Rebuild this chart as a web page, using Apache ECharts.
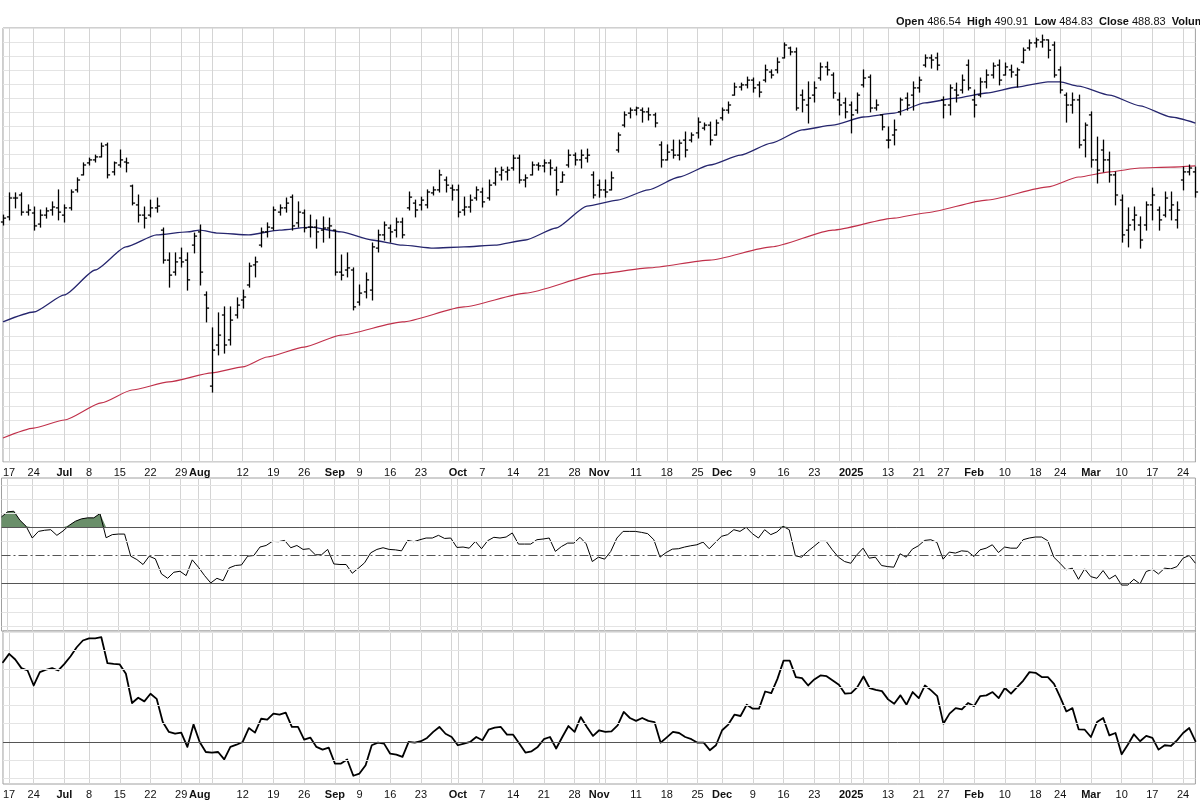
<!DOCTYPE html>
<html><head><meta charset="utf-8">
<script src="https://cdn.jsdelivr.net/npm/echarts@6/dist/echarts.min.js"></script>
<style>html,body{margin:0;padding:0;background:#fff}#c{width:1200px;height:800px}</style>
</head><body><div id="c"></div>
<script>
// ---- data ----
const holidays = ['2024-06-19','2024-07-04','2024-09-02','2024-11-28','2024-12-25','2025-01-01','2025-01-09','2025-01-20','2025-02-17'];
const firstDay = '2024-06-14';
const barCount = 195;

const tickLabels = [['2024-06-17','17'],['2024-06-24','24'],['2024-07-01','Jul'],['2024-07-08','8'],['2024-07-15','15'],['2024-07-22','22'],['2024-07-29','29'],['2024-08-01','Aug'],['2024-08-12','12'],['2024-08-19','19'],['2024-08-26','26'],['2024-09-03','Sep'],['2024-09-09','9'],['2024-09-16','16'],['2024-09-23','23'],['2024-10-01','Oct'],['2024-10-07','7'],['2024-10-14','14'],['2024-10-21','21'],['2024-10-28','28'],['2024-11-01','Nov'],['2024-11-11','11'],['2024-11-18','18'],['2024-11-25','25'],['2024-12-02','Dec'],['2024-12-09','9'],['2024-12-16','16'],['2024-12-23','23'],['2025-01-02','2025'],['2025-01-13','13'],['2025-01-21','21'],['2025-01-27','27'],['2025-02-03','Feb'],['2025-02-10','10'],['2025-02-18','18'],['2025-02-24','24'],['2025-03-03','Mar'],['2025-03-10','10'],['2025-03-17','17'],['2025-03-24','24']];
const boldLabels = ['Jul','Aug','Sep','Oct','Nov','Dec','2025','Feb','Mar'];
const extraGridDates = ['2024-08-05','2024-09-30','2024-11-04','2024-12-30','2025-01-06'];

const opens = [476.0,477.7,484.0,485.0,479.3,479.0,475.3,478.3,480.0,480.7,
478.3,480.7,486.7,491.7,495.7,496.7,497.7,501.7,492.7,495.0,
496.0,488.0,481.7,478.3,478.3,480.7,473.3,463.3,459.3,464.0,
463.3,468.3,472.7,451.7,421.3,435.0,445.0,436.7,445.0,450.0,
455.0,461.7,468.3,472.7,474.0,479.3,480.7,484.3,475.7,479.0,
474.3,474.3,473.3,474.0,473.3,459.3,460.0,460.0,449.3,452.7,
453.3,467.3,471.7,474.0,473.3,476.0,480.7,482.3,481.7,481.7,
485.7,486.7,490.0,487.3,486.7,480.0,481.0,484.0,486.0,484.0,
489.0,491.7,492.7,494.0,497.3,490.0,491.7,495.0,494.7,495.7,
493.3,489.3,495.0,498.3,496.7,497.3,491.7,488.3,486.7,486.7,
500.0,508.3,512.3,513.3,513.3,512.7,511.7,501.7,496.7,500.0,
498.3,503.3,503.3,505.7,507.3,508.3,505.0,510.7,513.3,518.3,
521.0,521.7,523.3,521.7,523.3,526.0,526.7,530.7,534.0,532.7,
518.3,515.0,518.3,524.0,527.7,525.0,516.7,515.7,515.0,513.3,
521.7,524.3,514.0,511.7,503.3,505.0,512.7,517.3,518.3,520.7,
528.3,530.7,530.7,516.7,515.0,520.0,520.0,528.3,516.7,518.3,
522.7,525.0,528.3,525.0,526.7,525.0,529.3,534.0,535.7,536.0,
536.7,535.0,526.7,518.3,515.0,516.7,503.3,511.7,496.7,500.0,
496.7,491.7,483.3,473.3,476.7,475.0,475.0,481.7,480.0,478.3,
480.0,476.7,490.0,492.7,492.7];
const highs = [478.3,485.7,485.7,485.7,481.7,481.0,480.0,480.7,482.7,486.7,
481.7,486.7,490.7,495.7,497.3,498.3,502.3,502.3,496.0,500.0,
497.3,488.3,485.0,481.0,483.3,484.0,474.0,465.7,465.7,467.3,
465.7,472.3,475.0,452.7,440.7,445.7,447.7,447.7,450.7,453.3,
462.3,464.3,474.0,475.7,481.0,481.7,484.0,485.0,482.7,480.0,
478.3,476.7,477.7,477.3,473.3,465.0,465.7,460.7,455.0,459.0,
469.0,473.3,476.0,475.0,477.3,477.3,486.0,483.3,484.3,486.7,
487.7,493.3,491.0,488.3,488.3,484.3,485.0,487.7,487.3,490.0,
494.0,494.3,494.3,498.3,498.3,491.7,496.0,495.7,496.7,496.7,
494.3,492.7,500.0,499.0,500.0,500.3,492.7,490.0,490.0,492.7,
505.7,512.7,514.0,514.3,514.0,514.0,512.3,502.7,501.7,503.3,
503.3,506.0,505.7,510.7,509.0,509.3,510.0,514.0,516.0,522.3,
522.3,524.3,524.0,522.7,528.3,526.7,530.7,535.7,534.3,534.0,
520.0,522.7,522.7,529.0,529.3,525.7,519.0,517.3,516.0,519.0,
526.7,525.0,516.7,511.7,507.7,510.0,517.3,519.0,522.7,524.3,
531.7,531.7,532.3,517.7,521.7,522.3,525.0,530.0,520.0,524.0,
526.7,529.0,530.0,529.0,528.3,527.3,534.0,536.7,537.3,538.3,
536.7,536.0,527.7,519.0,519.0,518.3,509.0,512.7,504.3,503.3,
499.3,492.7,485.0,480.7,481.0,477.7,482.7,487.3,481.0,486.0,
486.0,482.7,494.3,495.0,494.3];
const lows = [475.0,476.7,480.7,478.3,478.3,473.3,474.3,477.3,478.3,476.7,
476.0,480.0,486.0,491.7,495.0,496.0,497.7,490.7,491.7,494.3,
492.7,481.7,476.0,474.0,477.7,479.3,462.3,454.3,458.3,461.0,
453.3,465.7,455.0,442.7,419.3,431.7,432.3,435.0,444.0,447.3,
454.3,457.7,467.7,471.0,473.3,478.3,479.3,473.3,474.3,472.7,
471.0,467.3,469.3,470.7,458.3,456.7,457.7,446.7,448.3,450.7,
450.0,466.0,470.0,469.3,471.0,470.7,480.0,477.7,480.0,480.7,
485.0,486.0,486.0,483.3,477.7,478.3,479.3,483.3,481.0,483.3,
488.3,490.0,490.0,493.3,489.0,487.7,491.7,493.3,492.7,491.7,
485.0,489.3,494.3,495.0,494.0,496.0,484.0,484.3,484.3,486.7,
499.3,507.7,510.7,511.7,509.3,510.0,507.7,494.3,496.7,497.3,
496.7,497.7,502.7,504.0,506.7,501.7,505.0,510.0,512.3,518.3,
520.0,520.7,519.3,517.7,522.7,524.0,525.7,530.7,531.7,513.3,
512.7,509.0,516.0,523.3,525.0,517.3,511.7,510.7,505.7,512.3,
521.0,512.7,513.3,506.7,500.7,501.7,511.7,513.3,513.3,519.3,
527.7,527.3,526.7,510.7,511.7,516.0,519.0,520.0,511.0,517.7,
520.7,524.0,521.7,525.0,524.3,521.0,529.0,533.3,534.3,534.3,
530.7,524.3,519.0,509.3,512.3,500.7,497.7,494.3,489.0,492.7,
489.3,481.7,469.3,467.7,473.3,467.3,473.3,476.7,473.3,477.7,
476.7,474.0,486.7,491.7,484.3];
const closes = [477.3,484.0,484.0,479.3,480.0,474.7,478.3,479.7,481.0,479.3,
480.7,486.0,490.0,495.0,496.7,497.7,501.3,491.7,495.7,496.7,
495.7,482.3,478.3,477.3,480.7,481.3,463.3,458.3,462.7,462.7,
456.7,471.3,459.3,447.3,433.3,438.3,435.0,443.3,448.3,451.0,
461.3,462.7,472.7,474.3,480.0,480.7,482.3,474.7,479.3,474.0,
474.3,472.7,474.0,474.7,459.3,458.3,460.7,447.7,452.3,456.7,
467.7,471.7,475.0,472.7,476.0,471.7,484.3,480.0,483.3,486.0,
486.7,491.7,488.3,486.7,479.3,481.0,483.3,486.7,482.7,488.3,
492.7,493.3,493.3,497.3,490.0,490.7,495.0,494.7,495.7,494.0,
486.7,491.7,498.3,496.7,498.3,498.3,485.0,486.7,486.0,490.7,
505.0,511.7,513.3,514.0,512.7,511.7,509.0,496.7,499.3,498.3,
502.3,500.0,505.0,509.3,508.3,503.3,509.0,513.3,515.0,521.0,
521.7,523.3,520.7,519.3,526.7,525.0,529.3,535.0,532.7,514.0,
516.7,517.3,520.7,527.7,526.7,519.0,515.0,512.7,511.7,518.3,
524.0,514.0,515.0,507.7,503.3,506.7,516.7,515.0,520.7,523.3,
530.7,530.0,528.3,515.0,520.7,518.3,523.3,520.7,515.0,522.7,
525.0,528.0,523.3,527.7,526.0,526.7,533.3,535.7,536.7,536.7,
533.3,525.0,520.0,515.0,516.7,501.7,508.3,496.7,493.3,496.7,
491.7,485.0,471.7,475.0,478.3,470.0,481.7,485.0,476.7,484.0,
481.7,480.0,492.7,494.0,486.0];

// moving averages read at sampled bars: [bar index, value]
const ma50 = [[0,442.7],[5,446.0],[10,451.7],[15,460.0],[20,467.7],[25,471.7],[30,472.7],[32,473.3],[35,472.3],[40,471.7],[45,473.3],[50,474.3],[55,472.7],[60,470.0],[65,468.3],[70,467.3],[75,467.7],[80,468.3],[85,470.0],[90,474.0],[95,481.3],[100,483.3],[105,486.7],[110,491.0],[115,495.0],[120,498.3],[125,502.3],[130,506.7],[135,508.3],[140,511.0],[145,512.3],[150,515.7],[155,517.3],[160,519.0],[165,521.0],[170,522.7],[172,522.7],[175,521.3],[180,518.3],[185,514.7],[190,511.0],[194,509.0]];
const ma200 = [[0,404.0],[5,407.3],[10,410.0],[16,415.7],[21,420.0],[27,422.7],[34,425.7],[39,427.7],[43,431.0],[49,434.3],[55,438.3],[65,442.7],[75,447.7],[85,452.3],[97,458.7],[105,460.7],[115,463.3],[125,467.7],[135,473.3],[145,477.3],[150,479.0],[160,483.3],[170,487.7],[175,491.0],[180,492.7],[185,494.0],[190,494.3],[194,494.7]];

const rsi = [77.4,81.0,81.4,75.0,70.7,62.4,67.1,67.9,68.3,64.3,
67.4,71.4,74.3,76.0,76.7,76.7,79.8,62.6,64.8,65.2,
65.2,49.5,47.1,43.6,49.5,47.6,36.9,33.8,38.1,38.8,
35.7,46.9,41.7,35.7,30.5,33.8,32.1,41.2,42.9,43.3,
49.5,50.0,56.0,57.1,60.0,59.8,60.7,55.5,57.1,54.3,
54.8,50.5,50.5,54.3,44.0,43.6,43.6,37.4,41.0,44.8,
51.9,54.3,55.5,54.3,54.0,53.3,60.7,59.8,61.2,62.4,
62.4,64.3,62.1,62.4,55.7,56.0,55.2,60.0,54.8,60.5,
62.9,62.4,63.1,66.0,58.1,58.1,58.1,61.2,61.7,62.4,
52.9,56.4,58.8,58.8,62.9,58.3,45.7,48.8,47.4,52.9,
62.4,67.1,67.1,67.1,66.4,65.5,61.2,48.8,52.1,54.5,
54.8,56.0,56.9,57.6,59.5,54.8,59.3,63.6,64.8,68.3,
67.1,70.0,65.5,62.4,68.3,64.8,66.7,70.7,68.3,49.8,
48.8,52.9,56.4,60.0,60.0,54.0,48.8,45.7,44.5,50.5,
55.2,48.1,48.8,42.9,42.1,41.7,51.2,48.8,54.5,56.9,
60.7,61.2,59.3,47.4,52.4,51.7,53.3,52.9,49.3,54.0,
55.2,57.6,52.1,56.0,55.2,55.2,61.2,62.4,63.1,63.1,
60.5,48.8,44.5,39.8,41.0,33.1,40.5,35.0,33.8,39.3,
33.3,36.0,29.0,29.0,33.1,29.8,38.6,40.2,36.9,41.0,
40.5,42.1,48.1,50.0,44.5];

const lowerOsc = [4.36,4.82,4.51,4.04,3.91,3.09,3.82,3.95,4.04,3.91,
4.27,4.69,5.18,5.55,5.67,5.67,5.73,4.31,4.27,4.24,
3.73,2.13,2.42,2.22,2.64,2.36,1.09,0.55,0.45,0.51,
-0.27,0.96,0.00,-0.55,-0.58,-0.55,-0.95,-0.27,-0.15,0.00,
0.76,0.51,1.27,1.22,1.55,1.49,1.60,0.82,0.82,0.13,
0.24,-0.27,-0.42,-0.31,-1.18,-1.18,-0.96,-1.85,-1.73,-1.27,
-0.18,-0.04,-0.09,-0.64,-0.69,-0.82,0.00,-0.04,0.04,0.22,
0.55,0.82,0.45,0.27,-0.18,-0.09,0.00,0.27,0.09,0.67,
0.78,0.82,0.40,0.40,-0.09,-0.58,-0.51,-0.27,0.15,0.27,
-0.36,0.27,0.87,0.55,1.36,0.82,0.33,0.64,0.55,0.58,
0.91,1.64,1.31,1.15,1.31,1.15,1.09,-0.04,0.25,0.55,
0.49,0.27,0.15,-0.04,-0.04,-0.45,-0.18,0.64,0.95,1.49,
1.42,2.04,1.82,1.82,2.76,2.67,3.45,4.45,4.45,3.55,
3.49,3.09,3.42,3.64,3.60,3.36,3.13,2.64,2.67,3.00,
3.58,2.95,2.85,2.78,2.33,2.09,2.55,2.04,2.73,2.40,
3.09,2.82,2.51,1.00,1.55,1.85,1.78,2.13,1.96,2.51,
2.55,2.73,2.40,2.95,2.64,3.00,3.36,3.82,3.78,3.55,
3.55,3.18,2.45,1.67,1.85,0.69,0.67,0.27,1.09,1.31,
0.36,0.49,-0.67,-0.15,0.42,0.04,0.33,0.22,-0.42,-0.18,
-0.22,0.09,0.49,0.76,0.04];

const header = {Open:'486.54', High:'490.91', Low:'484.83', Close:'488.83'};

// ---- build ----
const hol = new Set(holidays);
const dates = [];
{
  let d = new Date(firstDay + 'T00:00:00Z');
  while (dates.length < barCount) {
    const s = d.toISOString().slice(0,10);
    const wd = d.getUTCDay();
    if (wd !== 0 && wd !== 6 && !hol.has(s)) dates.push(s);
    d = new Date(d.getTime() + 86400000);
  }
}
const labelMap = new Map(tickLabels);
const gridSet = new Set(tickLabels.map(t => t[0]).concat(extraGridDates));
const ohlc = dates.map((d, i) => [i, opens[i], highs[i], lows[i], closes[i]]);
const rsiAbove = rsi.map(v => Math.max(0, v - 70));
const rsiBase = rsi.map(() => 70);

const FONT = 'Liberation Sans, Arial, sans-serif';
const grids = [
  {left: 1.5, right: 4.6, top: 28, height: 434},
  {left: 1.5, right: 4.6, top: 478, height: 153},
  {left: 1.5, right: 4.6, top: 631, height: 153}
].map(g => Object.assign(g, {show: true, borderColor: '#a0a0a0', borderWidth: 1, backgroundColor: '#fff'}));

function xAxis(gi, showLabels) {
  return {
    type: 'category', gridIndex: gi, data: dates, boundaryGap: false,
    axisLine: {show: false}, axisTick: {show: false},
    splitLine: {show: true, interval: (i, v) => gridSet.has(v), lineStyle: {color: '#d4d4d4', width: 1}},
    axisLabel: {
      show: showLabels, interval: (i, v) => labelMap.has(v), margin: 5,
      fontFamily: FONT, fontSize: 11, color: '#111',
      formatter: v => { const t = labelMap.get(v) || ''; return boldLabels.includes(t) ? '{b|' + t + '}' : t; },
      rich: {b: {fontWeight: 'bold', fontSize: 11, fontFamily: FONT, color: '#111'}}
    }
  };
}
function hLines(vals, color, type) {
  return vals.map(v => ({yAxis: v, lineStyle: {color: color, width: 1, type: type || 'solid'}}));
}

const option = {
  animation: false,
  backgroundColor: '#fff',
  grid: grids,
  xAxis: [xAxis(0, true), xAxis(1, false), xAxis(2, true)],
  yAxis: [
    {type: 'value', gridIndex: 0, min: 396, max: 540.67, interval: 14/3, axisLabel: {show: false}, axisLine: {show: false}, axisTick: {show: false},
     splitLine: {show: true, lineStyle: {color: '#e4e4e4'}}},
    {type: 'value', gridIndex: 1, min: -3.6, max: 105, axisLabel: {show: false}, axisLine: {show: false}, axisTick: {show: false}, splitLine: {show: false}},
    {type: 'value', gridIndex: 2, min: -2.3, max: 6.07, axisLabel: {show: false}, axisLine: {show: false}, axisTick: {show: false}, splitLine: {show: false}}
  ],
  graphic: [{
    type: 'text', left: 896, top: 16, silent: true,
    style: {
      text: '{b|Open} ' + header.Open + '  {b|High} ' + header.High + '  {b|Low} ' + header.Low + '  {b|Close} ' + header.Close + '  {b|Volume}',
      fontFamily: FONT, fontSize: 11, fill: '#111',
      rich: {b: {fontWeight: 'bold', fontFamily: FONT, fontSize: 11, fill: '#111'}}
    }
  }],
  series: [
    {
      type: 'line', name: 'MA200', xAxisIndex: 0, yAxisIndex: 0, data: ma200, showSymbol: false, smooth: 0.2, smoothMonotone: 'x',
      lineStyle: {color: '#c0304a', width: 1.1}, z: 3
    },
    {
      type: 'line', name: 'MA50', xAxisIndex: 0, yAxisIndex: 0, data: ma50, showSymbol: false, smooth: 0.2, smoothMonotone: 'x',
      lineStyle: {color: '#26266e', width: 1.3}, z: 3
    },
    {
      type: 'custom', name: 'OHLC', xAxisIndex: 0, yAxisIndex: 0, data: ohlc, z: 5,
      encode: {x: 0, y: [1, 2, 3, 4]},
      renderItem: (params, api) => {
        const i = api.value(0);
        const o = api.coord([i, api.value(1)]);
        const h = api.coord([i, api.value(2)]);
        const l = api.coord([i, api.value(3)]);
        const c = api.coord([i, api.value(4)]);
        const x = Math.round(h[0]) + 0.5, w = 2.6;
        const st = {stroke: '#000', lineWidth: 1.3};
        return {type: 'group', children: [
          {type: 'line', shape: {x1: x, y1: h[1] - 0.5, x2: x, y2: l[1] + 0.5}, style: st},
          {type: 'line', shape: {x1: x - w, y1: o[1], x2: x, y2: o[1]}, style: st},
          {type: 'line', shape: {x1: x, y1: c[1], x2: x + w, y2: c[1]}, style: st}
        ]};
      }
    },
    {
      type: 'line', xAxisIndex: 1, yAxisIndex: 1, data: rsiBase, stack: 'ob', showSymbol: false, silent: true,
      lineStyle: {opacity: 0}, z: 2
    },
    {
      type: 'line', xAxisIndex: 1, yAxisIndex: 1, data: rsiAbove, stack: 'ob', showSymbol: false, silent: true,
      lineStyle: {opacity: 0}, areaStyle: {color: '#6a8f6a', opacity: 1}, z: 2
    },
    {
      type: 'line', name: 'RSI', xAxisIndex: 1, yAxisIndex: 1, data: rsi, showSymbol: false,
      lineStyle: {color: '#000', width: 1, join: 'round'}, z: 4,
      markLine: {silent: true, symbol: 'none', label: {show: false}, animation: false,
        data: hLines([0,10,20,40,60,80,90,100], '#e4e4e4')
          .concat(hLines([30,70], '#555'))
          .concat(hLines([50], '#555', [9,3,2,3]))}
    },
    {
      type: 'line', name: 'Lower', xAxisIndex: 2, yAxisIndex: 2, data: lowerOsc, showSymbol: false,
      lineStyle: {color: '#000', width: 1.8, join: 'round', cap: 'round'}, z: 4,
      markLine: {silent: true, symbol: 'none', label: {show: false}, animation: false,
        data: hLines([-2,-1,1,2,3,4,5,6], '#e4e4e4').concat(hLines([0], '#555'))}
    }
  ]
};
echarts.init(document.getElementById('c'), null, {renderer: 'canvas'}).setOption(option);
</script>
</body></html>
